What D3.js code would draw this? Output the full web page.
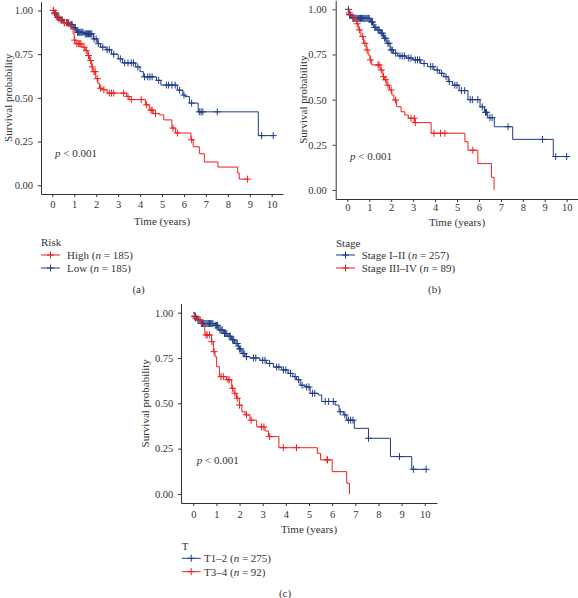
<!DOCTYPE html>
<html><head><meta charset="utf-8">
<script src="https://cdn.jsdelivr.net/npm/d3@7"></script>
<style>html,body{margin:0;padding:0;background:#fff}</style>
</head><body>
<svg id="chart" width="578" height="598"></svg>
<script>
// ---------- shared ticks ----------
const timeTicks = [0,1,2,3,4,5,6,7,8,9,10];
const survTicks = [0,0.25,0.5,0.75,1];

// ---------- panel (a): Risk ----------
const riskHighTimes = [0,0.1,0.2,0.45,0.75,0.88,0.95,1.0,1.08,1.35,1.5,1.62,1.7,1.78,1.85,1.98,2.08,2.15,2.3,2.5,3.38,3.5,4.25,4.42,4.6,4.88,5.08,5.45,5.62,6.32,6.42,6.7,6.93,7.55,8.45,8.52];
const riskHighSurv  = [1,0.98,0.95,0.93,0.91,0.894,0.866,0.83,0.81,0.79,0.77,0.742,0.714,0.677,0.65,0.61,0.583,0.555,0.546,0.527,0.508,0.49,0.46,0.43,0.41,0.403,0.374,0.327,0.299,0.26,0.22,0.18,0.133,0.104,0.07,0.035];
const riskHighCensor = [0.05,0.15,0.3,0.4,0.55,0.65,0.85,1.02,1.12,1.2,1.25,1.3,1.45,1.55,1.65,1.75,1.82,1.9,1.95,2.05,2.2,2.35,2.6,2.7,2.8,3.25,3.45,3.6,4.05,4.3,4.5,4.55,4.7,5.5,5.7,6.35,8.9];
const riskLowTimes = [0,0.08,0.2,0.35,0.5,0.8,0.95,1.1,1.45,1.87,2.05,2.2,2.45,2.7,3.0,3.2,3.8,4.0,4.15,4.75,4.95,5.7,5.95,6.05,6.25,6.65,9.39];
const riskLowSurv  = [1,0.985,0.96,0.945,0.93,0.92,0.90,0.875,0.866,0.837,0.81,0.79,0.775,0.75,0.723,0.70,0.677,0.65,0.62,0.60,0.573,0.544,0.516,0.507,0.47,0.42,0.284];
const riskLowCensor = [0.05,0.1,0.15,0.25,0.3,0.4,0.45,0.55,0.65,0.7,0.75,0.85,0.9,1.0,1.05,1.15,1.2,1.25,1.3,1.35,1.4,1.5,1.55,1.6,1.65,1.7,1.75,1.8,1.9,2.0,2.1,2.3,2.5,2.6,2.8,3.1,3.3,3.45,3.6,3.7,3.9,4.2,4.35,4.45,4.55,4.85,5.2,5.3,5.45,5.6,5.8,6.0,6.35,6.7,6.78,6.86,7.52,9.54,10.07];

// ---------- panel (b): Stage ----------
const stageEarlyTimes = [0,0.08,0.2,1.05,1.2,1.35,1.5,1.65,1.8,1.95,2.1,2.3,2.7,3.0,3.35,3.65,3.95,4.2,4.4,4.6,4.8,5.1,5.5,6.05,6.25,6.4,6.7,7.54,9.39];
const stageEarlySurv  = [1,0.97,0.95,0.93,0.90,0.886,0.868,0.84,0.812,0.775,0.757,0.742,0.73,0.72,0.70,0.683,0.664,0.646,0.627,0.60,0.58,0.55,0.50,0.46,0.43,0.40,0.35,0.28,0.185];
const stageEarlyCensor = [0.05,0.1,0.15,0.25,0.3,0.35,0.4,0.45,0.5,0.55,0.6,0.65,0.7,0.75,0.8,0.85,0.9,0.95,1.0,1.1,1.15,1.25,1.3,1.4,1.45,1.55,1.6,1.7,1.75,1.85,1.9,2.0,2.05,2.2,2.4,2.5,2.6,2.8,2.9,3.1,3.2,3.3,3.5,3.8,3.9,4.1,4.3,4.5,4.65,4.9,5.0,5.2,5.35,5.6,5.7,5.95,6.15,6.3,6.35,6.5,6.6,7.33,8.9,9.5,10.0];
const stageLateTimes = [0,0.05,0.12,0.27,0.43,0.5,0.62,0.74,0.86,0.95,1.03,1.11,1.5,1.62,1.7,1.8,1.92,2.03,2.12,2.25,2.45,2.62,2.78,3.08,3.82,5.36,5.5,5.95,6.57,6.69];
const stageLateSurv  = [1,0.98,0.97,0.95,0.92,0.886,0.85,0.812,0.775,0.747,0.72,0.692,0.664,0.627,0.61,0.58,0.554,0.526,0.498,0.461,0.433,0.415,0.397,0.373,0.314,0.267,0.22,0.146,0.07,0];
const stageLateCensor = [0.1,0.3,0.45,0.55,0.7,0.8,0.9,1.05,1.4,1.45,1.55,1.65,1.75,1.85,2.0,2.2,2.9,3.05,3.1,3.95,4.25,4.45,5.72];

// ---------- panel (c): T ----------
const tLowTimes = [0,0.05,0.15,0.3,0.9,1.1,1.3,1.5,1.65,1.78,1.95,2.1,2.24,2.45,2.88,3.17,3.46,3.82,4.1,4.3,4.46,4.62,4.83,5.05,5.4,5.55,6.13,6.3,6.5,6.63,6.96,7.57,8.52,9.44];
const tLowSurv  = [1,0.98,0.96,0.94,0.93,0.905,0.885,0.87,0.85,0.83,0.80,0.775,0.757,0.75,0.737,0.72,0.70,0.684,0.665,0.647,0.63,0.60,0.59,0.555,0.546,0.51,0.49,0.453,0.436,0.407,0.362,0.307,0.206,0.136];
const tLowCensor = [0.05,0.1,0.2,0.25,0.35,0.4,0.45,0.5,0.55,0.6,0.65,0.7,0.75,0.8,0.85,0.95,1.0,1.05,1.15,1.2,1.25,1.35,1.4,1.45,1.55,1.6,1.7,1.75,1.85,1.9,2.0,2.05,2.15,2.2,2.3,2.6,2.7,3.0,3.1,3.3,3.6,3.7,3.9,4.0,4.2,4.4,4.55,4.7,4.9,5.0,5.15,5.25,5.7,5.85,6.05,6.35,6.55,6.7,6.8,6.9,7.57,8.91,9.51,10.06];
const tHighTimes = [0,0.05,0.2,0.36,0.5,0.79,0.87,0.94,1.01,1.13,1.44,1.66,1.76,1.87,1.99,2.1,2.24,2.45,2.74,3.1,3.25,3.7,5.36,5.5,6.0,6.63,6.75];
const tHighSurv  = [1,0.97,0.96,0.932,0.877,0.84,0.785,0.757,0.702,0.647,0.63,0.583,0.555,0.528,0.49,0.453,0.436,0.407,0.37,0.347,0.316,0.255,0.224,0.188,0.123,0.059,0];
const tHighCensor = [0.1,0.3,0.55,0.6,0.7,0.8,0.9,1.2,1.3,1.5,1.55,1.7,1.8,1.9,2.0,2.3,2.5,2.95,3.05,3.3,3.89,4.46,5.78,5.8];

const RED = "#F01F1F", BLUE = "#1F3C88";
const FONT = "'Liberation Serif','Times New Roman',serif";
const svg = d3.select("#chart");

function survAt(times, surv, t){
  let s = surv[0];
  for (let i=0;i<times.length;i++){ if (times[i] <= t) s = surv[i]; }
  return s;
}

function drawPanel(p){
  const g = svg.append("g");
  const x = d3.scaleLinear().domain([-p.xpad, 10 + p.xpad]).range([p.left, p.right]);
  const y = d3.scaleLinear().domain([-0.05, 1.05]).range([p.bottom, p.top]);

  const gx = g.append("g").attr("transform", `translate(0,${p.bottom})`)
    .call(d3.axisBottom(x).tickValues(timeTicks).tickFormat(d3.format("d")).tickSize(3).tickSizeOuter(0).tickPadding(p.xtp));
  const gy = g.append("g").attr("transform", `translate(${p.left},0)`)
    .call(d3.axisLeft(y).tickValues(survTicks).tickFormat(d3.format(".2f")).tickSize(3).tickSizeOuter(0).tickPadding(p.ytp));
  [gx, gy].forEach(a => {
    a.selectAll(".domain, .tick line").attr("stroke", "#333").attr("stroke-width", 1);
    a.selectAll("text").attr("font-family", FONT).attr("font-size", 10.5).attr("fill", "#333");
  });

  // axis titles
  g.append("text").attr("x", (p.left + p.right) / 2).attr("y", p.xTitleY).attr("dy", "0.35em")
    .attr("text-anchor", "middle").attr("font-family", FONT).attr("font-size", 11).attr("fill", "#333")
    .text("Time (years)");
  g.append("text").attr("transform", `translate(${p.yTitleX},${(p.top + p.bottom) / 2}) rotate(-90)`)
    .attr("dy", "0.35em").attr("text-anchor", "middle").attr("font-family", FONT).attr("font-size", 11).attr("fill", "#333")
    .text("Survival probability");

  // curves
  const line = d3.line().x(d => x(d[0])).y(d => y(d[1])).curve(d3.curveStepAfter);
  p.series.forEach(s => {
    const pts = s.times.map((t, i) => [t, s.surv[i]]);
    const lastT = s.times[s.times.length - 1];
    const endT = Math.max(lastT, d3.max(s.censor));
    if (endT > lastT) pts.push([endT, s.surv[s.surv.length - 1]]);
    g.append("path").attr("d", line(pts)).attr("fill", "none").attr("stroke", s.color).attr("stroke-width", 1);
    g.append("g").selectAll("path").data(s.censor).join("path")
      .attr("d", c => {
        const cx = x(c), cy = y(survAt(s.times, s.surv, c));
        return `M${cx - 3.5},${cy}h7M${cx},${cy - 3.5}v7`;
      })
      .attr("stroke", s.color).attr("stroke-width", 1).attr("fill", "none");
  });

  // p-value
  const pt = g.append("text").attr("x", p.pX).attr("y", p.pY).attr("dy", "0.35em")
    .attr("font-family", FONT).attr("font-size", 11).attr("fill", "#333");
  pt.append("tspan").attr("font-style", "italic").text("p");
  pt.append("tspan").text(" < 0.001");

  // legend
  g.append("text").attr("x", p.legX).attr("y", p.legTitleY).attr("dy", "0.35em")
    .attr("font-family", FONT).attr("font-size", 11).attr("fill", "#333").text(p.legTitle);
  p.legendItems.forEach((it, i) => {
    const ly = p.legItemY[i];
    g.append("line").attr("x1", p.legX).attr("x2", p.legX + 19).attr("y1", ly).attr("y2", ly)
      .attr("stroke", it.color).attr("stroke-width", 1);
    const mx = p.legX + 9.5;
    g.append("path").attr("d", `M${mx - 3.5},${ly}h7M${mx},${ly - 3.5}v7`).attr("stroke", it.color).attr("stroke-width", 1);
    const t = g.append("text").attr("x", p.legX + p.legTextDx).attr("y", ly).attr("dy", "0.35em")
      .attr("font-family", FONT).attr("font-size", 11).attr("fill", "#333");
    t.append("tspan").text(it.label + " (");
    t.append("tspan").attr("font-style", "italic").text("n");
    t.append("tspan").text(" = " + it.n + ")");
  });

  // panel label
  g.append("text").attr("x", p.tagX).attr("y", p.tagY).attr("dy", "0.35em").attr("text-anchor", "middle")
    .attr("font-family", FONT).attr("font-size", 11).attr("fill", "#333").text(p.tag);
}

drawPanel({
  left: 41, right: 283, top: 1.7, bottom: 194, xpad: 0.515, xtp: 4, ytp: 5,
  xTitleY: 220.7, yTitleX: 8, pX: 55, pY: 153,
  legX: 41, legTitle: "Risk", legTitleY: 242, legItemY: [255, 268], legTextDx: 26,
  legendItems: [{label: "High", n: 185, color: RED}, {label: "Low", n: 185, color: BLUE}],
  tag: "(a)", tagX: 138.5, tagY: 289,
  series: [
    {times: riskLowTimes, surv: riskLowSurv, censor: riskLowCensor, color: BLUE},
    {times: riskHighTimes, surv: riskHighSurv, censor: riskHighCensor, color: RED}
  ]
});

drawPanel({
  left: 335.7, right: 578.3, top: 0.3, bottom: 199, xpad: 0.53, xtp: 1.5, ytp: 6,
  xTitleY: 221.7, yTitleX: 302.7, pX: 350, pY: 156,
  legX: 336, legTitle: "Stage", legTitleY: 242.7, legItemY: [255, 268], legTextDx: 25.7,
  legendItems: [{label: "Stage I–II", n: 257, color: BLUE}, {label: "Stage III–IV", n: 89, color: RED}],
  tag: "(b)", tagX: 434.5, tagY: 289,
  series: [
    {times: stageEarlyTimes, surv: stageEarlySurv, censor: stageEarlyCensor, color: BLUE},
    {times: stageLateTimes, surv: stageLateSurv, censor: stageLateCensor, color: RED}
  ]
});

drawPanel({
  left: 181, right: 437, top: 303.6, bottom: 503, xpad: 0.53, xtp: 5, ytp: 4.7,
  xTitleY: 529, yTitleX: 145, pX: 196.7, pY: 460,
  legX: 181.7, legTitle: "T", legTitleY: 546, legItemY: [558.3, 571.7], legTextDx: 22.3,
  legendItems: [{label: "T1–2", n: 275, color: BLUE}, {label: "T3–4", n: 92, color: RED}],
  tag: "(c)", tagX: 285, tagY: 593,
  series: [
    {times: tLowTimes, surv: tLowSurv, censor: tLowCensor, color: BLUE},
    {times: tHighTimes, surv: tHighSurv, censor: tHighCensor, color: RED}
  ]
});
</script>
</body></html>
